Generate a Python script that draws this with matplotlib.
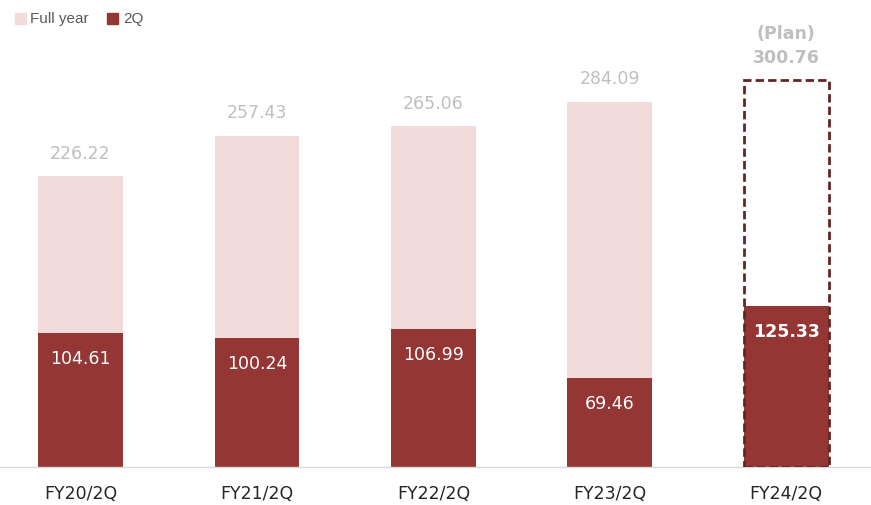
import matplotlib.pyplot as plt
from matplotlib.patches import Rectangle

categories = ['FY20/2Q', 'FY21/2Q', 'FY22/2Q', 'FY23/2Q', 'FY24/2Q']
full_year = [226.22, 257.43, 265.06, 284.09, 300.76]
q2 = [104.61, 100.24, 106.99, 69.46, 125.33]
plan_index = 4

FULL_COLOR = '#F2DCDB'
Q2_COLOR = '#943634'
BOX_COLOR = '#632523'
LABEL_GRAY = '#BFBFBF'

plt.rcParams['font.family'] = ['DejaVu Sans']

fig = plt.figure(figsize=(8.71, 5.06), dpi=100)
ax = fig.add_axes([0, 0.075, 1, 0.925])

x = list(range(len(categories)))
width = 0.48

for i in x:
    if i != plan_index:
        ax.bar(i, full_year[i], width, color=FULL_COLOR, zorder=1)
        ax.annotate(f'{full_year[i]:.2f}', (i, full_year[i]),
                    xytext=(0, 17), textcoords='offset points',
                    ha='center', va='center', fontsize=12.5, color=LABEL_GRAY)
    ax.bar(i, q2[i], width, color=Q2_COLOR, zorder=2)
    bold = 'bold' if i == plan_index else 'normal'
    ax.annotate(f'{q2[i]:.2f}', (i, q2[i]),
                xytext=(0, -18), textcoords='offset points',
                ha='center', va='center', fontsize=12.5, color='white',
                fontweight=bold)

# plan box for the full year
ax.add_patch(Rectangle((plan_index - width / 2, 0), width, full_year[plan_index],
                       fill=False, edgecolor=BOX_COLOR, linewidth=2,
                       linestyle=(0, (3, 1.5)), zorder=3))
ax.annotate(f'{full_year[plan_index]:.2f}', (plan_index, full_year[plan_index]),
            xytext=(0, 17), textcoords='offset points',
            ha='center', va='center', fontsize=12.5, color=LABEL_GRAY,
            fontweight='bold')
ax.annotate('(Plan)', (plan_index, full_year[plan_index]),
            xytext=(0, 34), textcoords='offset points',
            ha='center', va='center', fontsize=12.5, color=LABEL_GRAY,
            fontweight='bold')

ax.set_xlim(-0.456, 4.48)
ax.set_ylim(0, 364)
ax.set_xticks(x)
ax.set_xticklabels(categories, fontsize=12.5, color='#262626')
ax.tick_params(axis='x', length=0, pad=12)
ax.set_yticks([])
for side in ['top', 'right', 'left']:
    ax.spines[side].set_visible(False)
ax.spines['bottom'].set_color('#D9D9D9')
ax.spines['bottom'].set_linewidth(1)

# legend
fig.patches.append(Rectangle((0.0172, 0.9506), 0.0126, 0.0217,
                             transform=fig.transFigure, color=FULL_COLOR))
fig.text(0.035, 0.9615, 'Full year', fontsize=11, color='#595959', va='center',
         family='Liberation Sans')
fig.patches.append(Rectangle((0.1228, 0.9506), 0.0126, 0.0217,
                             transform=fig.transFigure, color=Q2_COLOR))
fig.text(0.1412, 0.9615, '2Q', fontsize=11, color='#595959', va='center',
         family='Liberation Sans')

fig.savefig('out.png', dpi=100)
